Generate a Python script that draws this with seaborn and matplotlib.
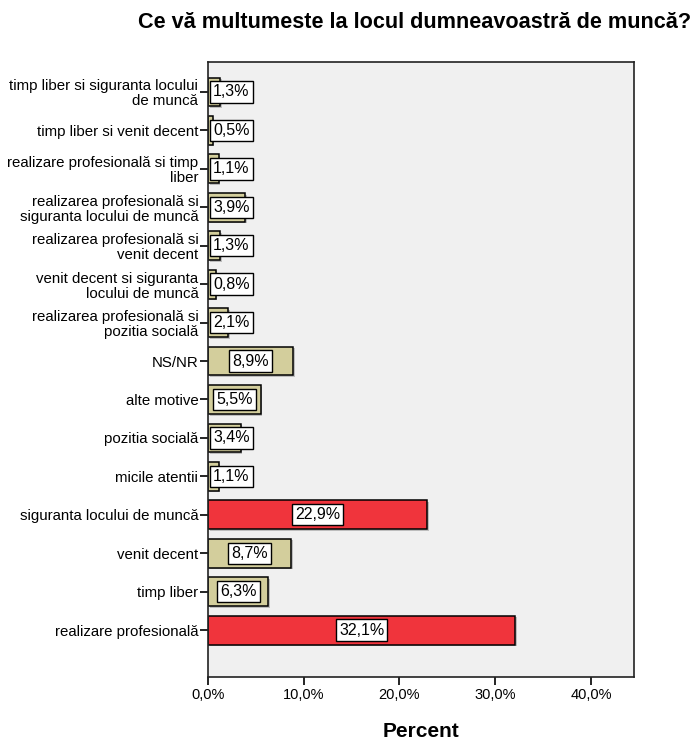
import matplotlib
matplotlib.use("Agg")
import matplotlib.pyplot as plt
import matplotlib.patheffects as pe
import seaborn as sns
import pandas as pd

categories = [
    "timp liber si siguranta locului\nde muncă",
    "timp liber si venit decent",
    "realizare profesională si timp\nliber",
    "realizarea profesională si\nsiguranta locului de muncă",
    "realizarea profesională si\nvenit decent",
    "venit decent si siguranta\nlocului de muncă",
    "realizarea profesională si\npozitia socială",
    "NS/NR",
    "alte motive",
    "pozitia socială",
    "micile atentii",
    "siguranta locului de muncă",
    "venit decent",
    "timp liber",
    "realizare profesională",
]
percent = [1.3, 0.5, 1.1, 3.9, 1.3, 0.8, 2.1, 8.9, 5.5, 3.4, 1.1, 22.9, 8.7, 6.3, 32.1]
highlight = [False] * 11 + [True, False, False, True]
x_ticks = [0, 10, 20, 30, 40]

TAN = "#D3CE9C"
RED = "#F0343C"

sns.set_theme(style="white")
plt.rcParams["font.family"] = ["Liberation Sans", "DejaVu Sans"]
plt.rcParams["text.color"] = "black"
plt.rcParams["xtick.color"] = "black"
plt.rcParams["ytick.color"] = "black"
plt.rcParams["axes.labelcolor"] = "black"

df = pd.DataFrame({
    "category": categories,
    "percent": percent,
    "group": ["hi" if h else "lo" for h in highlight],
})

fig = plt.figure(figsize=(6.98, 7.43), dpi=100)
ax = fig.add_axes([208 / 698, 66 / 743, 426 / 698, 615 / 743])
ax.set_facecolor("#F0F0F0")

sns.barplot(
    data=df, x="percent", y="category", hue="group", order=categories,
    palette={"hi": RED, "lo": TAN}, saturation=1, orient="h", width=0.75,
    dodge=False, edgecolor="black", linewidth=1.1, legend=False, ax=ax,
)
for patch in ax.patches:
    patch.set_path_effects([
        pe.SimplePatchShadow(offset=(1.2, -1.2), shadow_rgbFace="#B8B8B8", alpha=0.9),
        pe.Normal(),
    ])

ax.set_xlim(0, 44.5)
ax.set_ylim(15.22, -0.78)
ax.set_xticks(x_ticks)
ax.set_xticklabels([f"{t:.1f}%".replace(".", ",") for t in x_ticks], fontsize=10.5)
ax.set_yticks(range(len(categories)))
ax.set_yticklabels(categories, fontsize=10.8, linespacing=1.08)
ax.tick_params(axis="both", which="major", length=6, width=1.2, color="black",
               direction="out", bottom=True, left=True, pad=2)
ax.tick_params(axis="y", pad=1)
for s in ax.spines.values():
    s.set_color("#222222")
    s.set_linewidth(1.2)

ax.set_xlabel("Percent", fontsize=15, fontweight="bold", labelpad=14)
ax.set_ylabel("")
fig.text(415 / 698, 1 - 23 / 743, "Ce vă multumeste la locul dumneavoastră de muncă?",
         ha="center", va="center", fontsize=15.6, fontweight="bold")

# value labels in white boxes, kept inside the axis on the left
texts = []
for i, v in enumerate(percent):
    t = ax.text(v / 2, i, f"{v:.1f}%".replace(".", ","), ha="center", va="center",
                fontsize=11.5, color="black",
                bbox=dict(boxstyle="square,pad=0.2", fc="white", ec="black", lw=1.0))
    texts.append(t)

fig.canvas.draw()
renderer = fig.canvas.get_renderer()
ax_left = ax.transData.transform((0, 0))[0]
for t in texts:
    bb = t.get_bbox_patch().get_window_extent(renderer)
    if bb.x0 < ax_left + 2:
        shift = ax_left + 2 - bb.x0
        x_disp, y_disp = ax.transData.transform(t.get_position())
        t.set_position(ax.transData.inverted().transform((x_disp + shift, y_disp)))

fig.savefig("out.png", dpi=100)
